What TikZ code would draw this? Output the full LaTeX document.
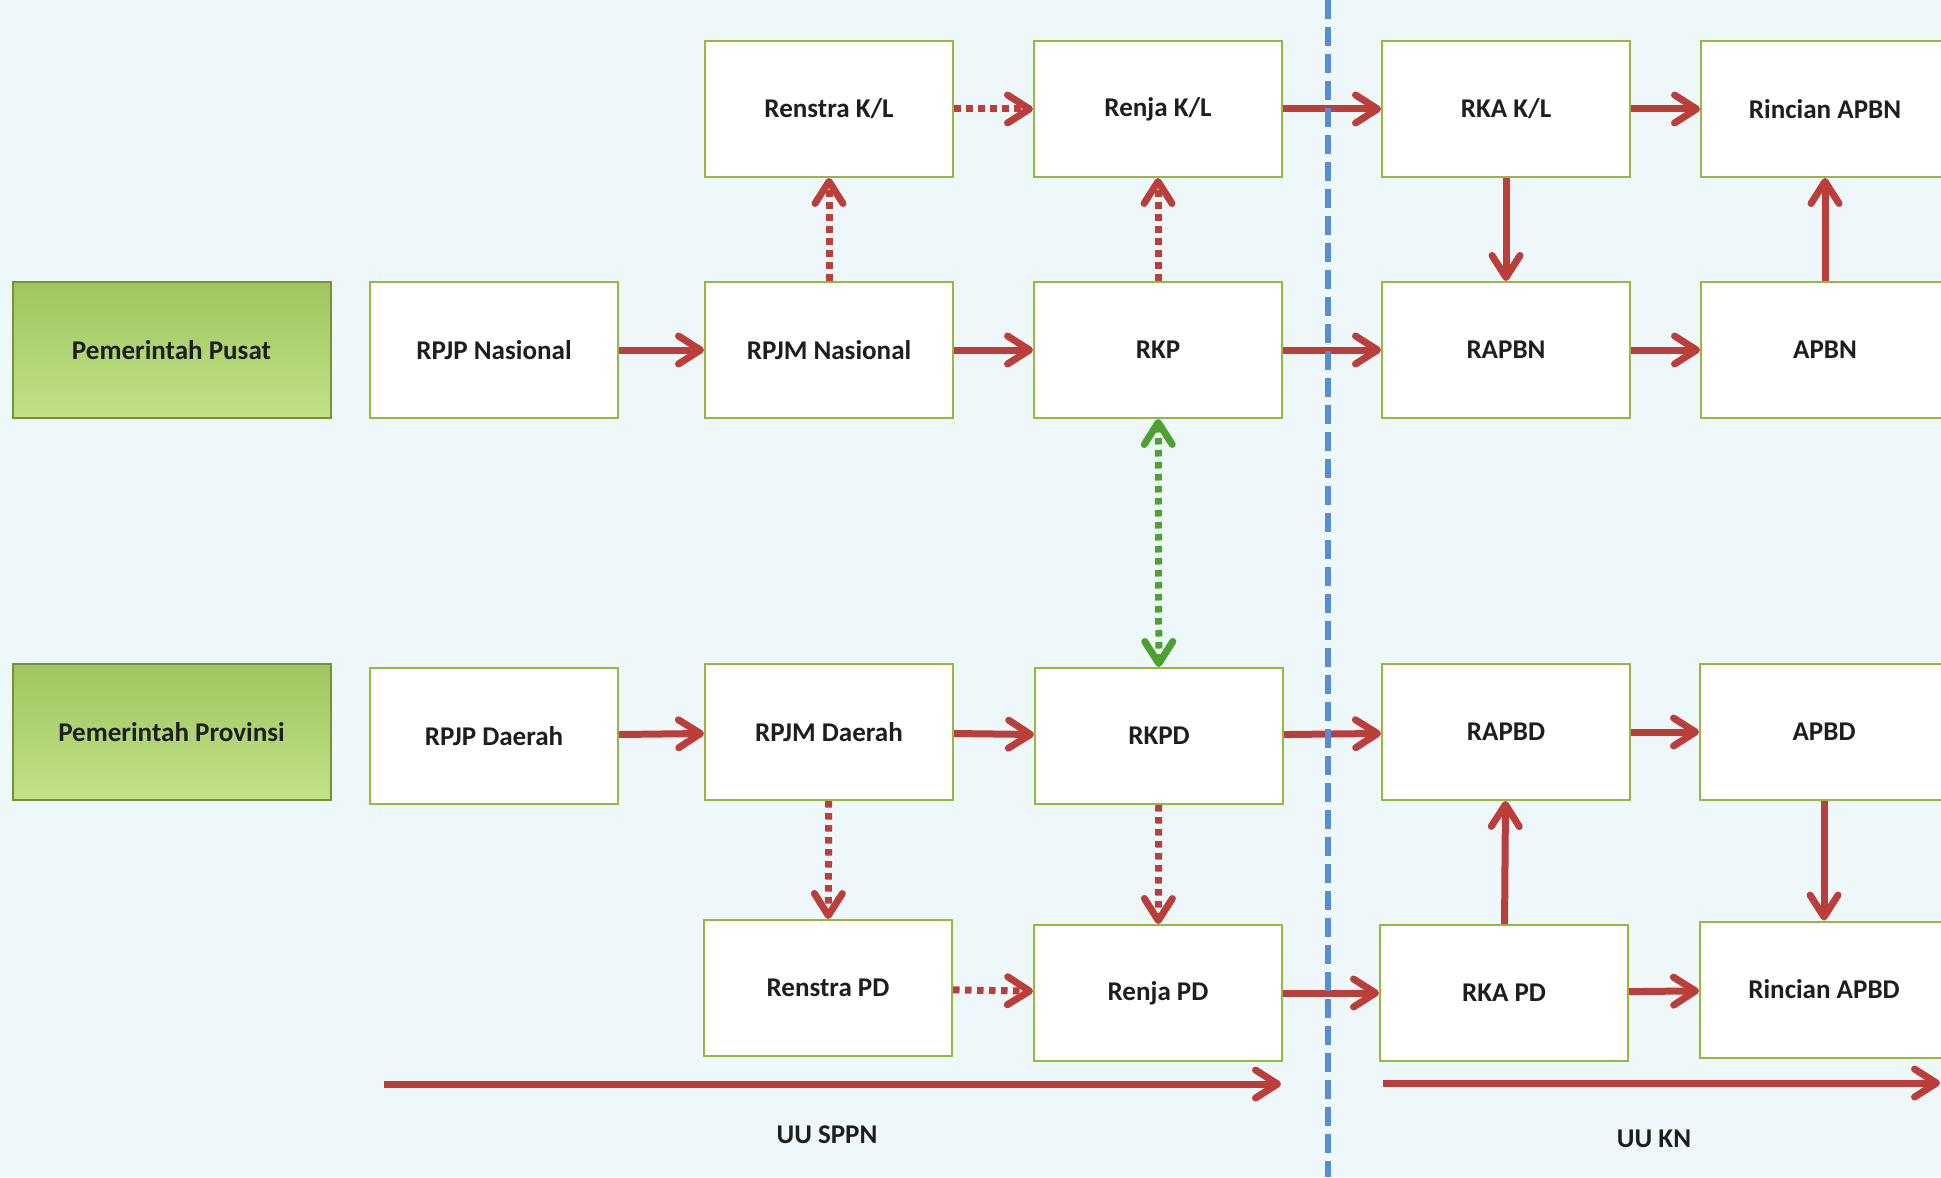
\documentclass[tikz,border=0pt]{standalone}
\usepackage{fontspec}
\setmainfont{Carlito}
\usetikzlibrary{arrows.meta}

\definecolor{latar}{RGB}{238,248,250}
\definecolor{garisbox}{RGB}{150,185,60}
\definecolor{merah}{RGB}{188,62,58}
\definecolor{hijau}{RGB}{78,160,48}
\definecolor{biru}{RGB}{85,142,213}
\definecolor{hijauatas}{RGB}{158,198,96}
\definecolor{hijaubawah}{RGB}{194,225,134}
\definecolor{teks}{RGB}{30,30,30}

\tikzset{
	kotak/.style={draw=garisbox, line width=0.2mm, fill=white, minimum width=2.48cm, minimum height=1.36cm, inner sep=0pt, text=teks, font=\bfseries\fontsize{7.7}{9}\selectfont},
	tingkat/.style={kotak, draw=garisbox!80!black, minimum width=3.18cm, top color=hijauatas, bottom color=hijaubawah},
	judul/.style={text=teks, font=\bfseries\fontsize{7.7}{9}\selectfont},
	panah/.style={merah, line width=0.7mm, ->},
	putus/.style={panah, dash pattern=on 0.65mm off 0.55mm},
	dua/.style={hijau, line width=0.7mm, <->, dash pattern=on 0.65mm off 0.55mm},
}

\begin{document}
\begin{tikzpicture}[>={Straight Barb[length=2.2mm,width=2.8mm,round]}]
	\useasboundingbox (0,0) rectangle (19.41,11.77);
	\clip (0,0) rectangle (19.41,11.77);
	\fill[latar] (0,0) rectangle (19.41,11.77);

	% --- PEMERINTAH PUSAT ---
	\node[tingkat] (pusat) at (1.715,8.27) {Pemerintah Pusat};
	\node[kotak] (rpjpn) at (4.94,8.27) {RPJP Nasional};
	\node[kotak] (rpjmn) at (8.29,8.27) {RPJM Nasional};
	\node[kotak] (rkp) at (11.58,8.27) {RKP};
	\node[kotak] (rapbn) at (15.06,8.27) {RAPBN};
	\node[kotak] (apbn) at (18.25,8.27) {APBN};

	% Baris atas (K/L)
	\node[kotak] (renstrakl) at (8.29,10.68) {Renstra K/L};
	\node[kotak] (renjakl) at (11.58,10.68) {Renja K/L};
	\node[kotak] (rkakl) at (15.06,10.68) {RKA K/L};
	\node[kotak] (rincianapbn) at (18.25,10.68) {Rincian APBN};

	% --- PEMERINTAH PROVINSI ---
	\node[tingkat] (provinsi) at (1.715,4.45) {Pemerintah Provinsi};
	\node[kotak] (rpjpd) at (4.94,4.41) {RPJP Daerah};
	\node[kotak] (rpjmd) at (8.29,4.45) {RPJM Daerah};
	\node[kotak] (rkpd) at (11.59,4.41) {RKPD};
	\node[kotak] (rapbd) at (15.06,4.45) {RAPBD};
	\node[kotak] (apbd) at (18.24,4.45) {APBD};

	% Baris bawah (PD)
	\node[kotak] (renstrapd) at (8.28,1.89) {Renstra PD};
	\node[kotak] (renjapd) at (11.58,1.84) {Renja PD};
	\node[kotak] (rkapd) at (15.04,1.84) {RKA PD};
	\node[kotak] (rincianapbd) at (18.24,1.875) {Rincian APBD};

	% Panah pusat
	\draw[panah] (rpjpn) -- (rpjmn);
	\draw[panah] (rpjmn) -- (rkp);
	\draw[panah] (rkp) -- (rapbn);
	\draw[panah] (rapbn) -- (apbn);
	\draw[putus] (rpjmn) -- (renstrakl);
	\draw[putus] (rkp) -- (renjakl);
	\draw[putus] (renstrakl) -- (renjakl);
	\draw[panah] (renjakl) -- (rkakl);
	\draw[panah] (rkakl) -- (rincianapbn);
	\draw[panah] (rkakl) -- (rapbn);
	\draw[panah] (apbn) -- (rincianapbn);

	% Hubungan pusat - provinsi
	\draw[dua] (rkp) -- (rkpd);

	% Panah provinsi
	\draw[panah] (rpjpd) -- (rpjmd);
	\draw[panah] (rpjmd) -- (rkpd);
	\draw[panah] (rkpd) -- (rapbd);
	\draw[panah] (rapbd) -- (apbd);
	\draw[putus] (rpjmd) -- (renstrapd);
	\draw[putus] (rkpd) -- (renjapd);
	\draw[putus] (renstrapd) -- (renjapd);
	\draw[panah] (renjapd) -- (rkapd);
	\draw[panah] (rkapd) -- (rapbd);
	\draw[panah] (rkapd) -- (rincianapbd);
	\draw[panah] (apbd) -- (rincianapbd);

	% --- DASAR HUKUM ---
	\coordinate (sppnA) at (3.84,0.93);
	\coordinate (sppnB) at (12.81,0.93);
	\coordinate (knA) at (13.83,0.94);
	\coordinate (knB) at (19.40,0.94);
	\draw[panah] (sppnA) -- (sppnB);
	\draw[panah] (knA) -- (knB);
	\node[judul] (sppn) at (8.27,0.42) {UU SPPN};
	\node[judul] (kn) at (16.54,0.38) {UU KN};

	% Garis pemisah
	\coordinate (batasA) at (13.28,11.77);
	\coordinate (batasB) at (13.28,0);
	\draw[biru, line width=0.55mm, dash pattern=on 1.9mm off 0.8mm] (batasA) -- (batasB);
\end{tikzpicture}
\end{document}
